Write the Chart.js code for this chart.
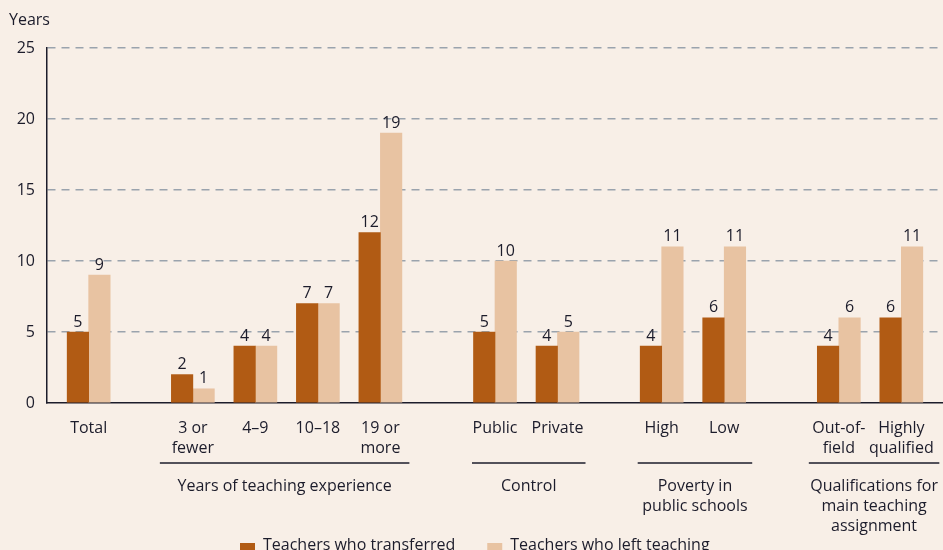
<!DOCTYPE html>
<html>
<head>
<meta charset="utf-8">
<script src="https://cdn.jsdelivr.net/npm/chart.js@4.4.1/dist/chart.umd.min.js"></script>
<style>
  body { margin: 0; background: #f8efe7; }
  #wrap { width: 943px; height: 550px; position: relative; }
</style>
</head>
<body>
<div id="wrap"><canvas id="teacherChart"></canvas></div>
<script>
// categories and values
const categories = ['Total', ['3 or', 'fewer'], '4–9', '10–18', ['19 or', 'more'],
  'Public', 'Private', 'High', 'Low', ['Out-of-', 'field'], ['Highly', 'qualified']];
const transferred = [5, 2, 4, 7, 12, 5, 4, 4, 6, 4, 6];
const leftTeaching = [9, 1, 4, 7, 19, 10, 5, 11, 11, 6, 11];
const yTicks = [0, 5, 10, 15, 20, 25];
const seriesNames = ['Teachers who transferred', 'Teachers who left teaching'];

// groups under the axis: label lines, first and last category
const groupLabels = [['Years of teaching experience'], ['Control'],
  ['Poverty in', 'public schools'], ['Qualifications for', 'main teaching', 'assignment']];
const groupFrom = [1, 5, 7, 9];
const groupTo = [4, 6, 8, 10];

// layout: slot of each category on the x axis (empty slots make the gaps)
const catSlots = [4, 14, 20, 26, 32, 43, 49, 59, 65, 76, 82];
const slotCount = 87;
// how far the group rule runs past the first / last bar pair (px)
const groupPadL = [33, 23, 24, 30];
const groupPadR = [29, 28, 28, 38];

const darkColor = '#b15b14';
const lightColor = '#e8c3a2';
const textColor = '#1c1c2b';
const FONT = '"Open Sans"';

// build slot labels / data
let slotLabels = [];
let slotA = [];
let slotB = [];
for (let i = 0; i < slotCount; i++) {
  slotLabels.push('');
  slotA.push(null);
  slotB.push(null);
}
catSlots.forEach((s, i) => {
  slotLabels[s] = categories[i];
  slotA[s] = transferred[i];
  slotB[s] = leftTeaching[i];
});

// background
var bgPlugin = {
  id: 'bg',
  beforeDraw: function(chart) {
    const ctx = chart.ctx;
    ctx.save();
    ctx.fillStyle = '#f8efe7';
    ctx.fillRect(0, 0, chart.width, chart.height);
    ctx.restore();
  }
};

// numbers above bars
var valueLabels = {
  id: 'valueLabels',
  afterDatasetsDraw: function(chart) {
    const ctx = chart.ctx;
    ctx.save();
    ctx.font = '16px ' + FONT;
    ctx.fillStyle = textColor;
    ctx.textAlign = 'center';
    ctx.textBaseline = 'bottom';
    chart.data.datasets.forEach((ds, d) => {
      chart.getDatasetMeta(d).data.forEach((bar, i) => {
        if (ds.data[i] === null) return;
        ctx.fillText(ds.data[i], bar.x, bar.y - 2);
      });
    });
    ctx.restore();
  }
};

// "Years", group labels and legend
var extras = {
  id: 'extras',
  afterDraw: function(chart) {
    const ctx = chart.ctx;
    const x = chart.scales.x;
    ctx.save();
    ctx.fillStyle = textColor;
    ctx.font = '16px ' + FONT;
    ctx.textBaseline = 'middle';
    ctx.textAlign = 'left';
    ctx.fillText('Years', 9, 20);

    // group lines + labels
    ctx.strokeStyle = textColor;
    ctx.lineWidth = 1.5;
    ctx.textAlign = 'center';
    groupLabels.forEach((lines, g) => {
      const x1 = x.getPixelForValue(catSlots[groupFrom[g]]) - groupPadL[g];
      const x2 = Math.min(x.getPixelForValue(catSlots[groupTo[g]]) + groupPadR[g], chart.width - 2);
      ctx.beginPath();
      ctx.moveTo(x1, 463);
      ctx.lineTo(x2, 463);
      ctx.stroke();
      lines.forEach((t, k) => {
        ctx.fillText(t, (x1 + x2) / 2, 486 + k * 20);
      });
    });

    // legend
    const colors = [darkColor, lightColor];
    let lx = 240;
    ctx.textAlign = 'left';
    seriesNames.forEach((t, i) => {
      ctx.fillStyle = colors[i];
      ctx.fillRect(lx, 543, 15, 15);
      ctx.fillStyle = textColor;
      ctx.fillText(t, lx + 23, 545);
      lx += 23 + ctx.measureText(t).width + 32;
    });
    ctx.restore();
  }
};

let ctx = document.getElementById('teacherChart').getContext('2d');
let teacherChart = new Chart(ctx, {
  type: 'bar',
  data: {
    labels: slotLabels,
    datasets: [{
      label: seriesNames[0],
      data: slotA,
      backgroundColor: darkColor,
      barThickness: 21.5,
    }, {
      label: seriesNames[1],
      data: slotB,
      backgroundColor: lightColor,
      barThickness: 21.5,
    }]
  },
  plugins: [bgPlugin, valueLabels, extras],
  options: {
    responsive: true,
    maintainAspectRatio: false,
    animation: false,
    events: [],
    layout: {
      padding: { top: 48, right: 0, left: 0, bottom: 0 }
    },
    plugins: {
      legend: { display: false },
      tooltip: { enabled: false }
    },
    scales: {
      x: {
        offset: false,
        afterFit: function(scale) {
          scale.height = 147;
          scale.paddingLeft = 0;
          scale.paddingRight = 0;
        },
        grid: { display: false },
        border: { display: true, color: textColor, width: 1.5 },
        ticks: {
          autoSkip: false,
          maxRotation: 0,
          minRotation: 0,
          padding: 7,
          color: textColor,
          font: { family: FONT, size: 16, lineHeight: 1.25 }
        }
      },
      y: {
        min: 0,
        max: 25,
        afterFit: function(scale) { scale.width = 47; },
        afterBuildTicks: function(scale) {
          scale.ticks = yTicks.map(v => ({ value: v }));
        },
        grid: {
          drawTicks: false,
          lineWidth: 1.5,
          color: (c) => c.tick && c.tick.value === 0 ? 'rgba(0,0,0,0)' : '#9aa3ad'
        },
        border: { display: true, color: textColor, width: 1.5, dash: [8, 6] },
        ticks: {
          padding: 12,
          color: textColor,
          font: { family: FONT, size: 16 }
        }
      }
    }
  }
});
</script>
</body>
</html>
